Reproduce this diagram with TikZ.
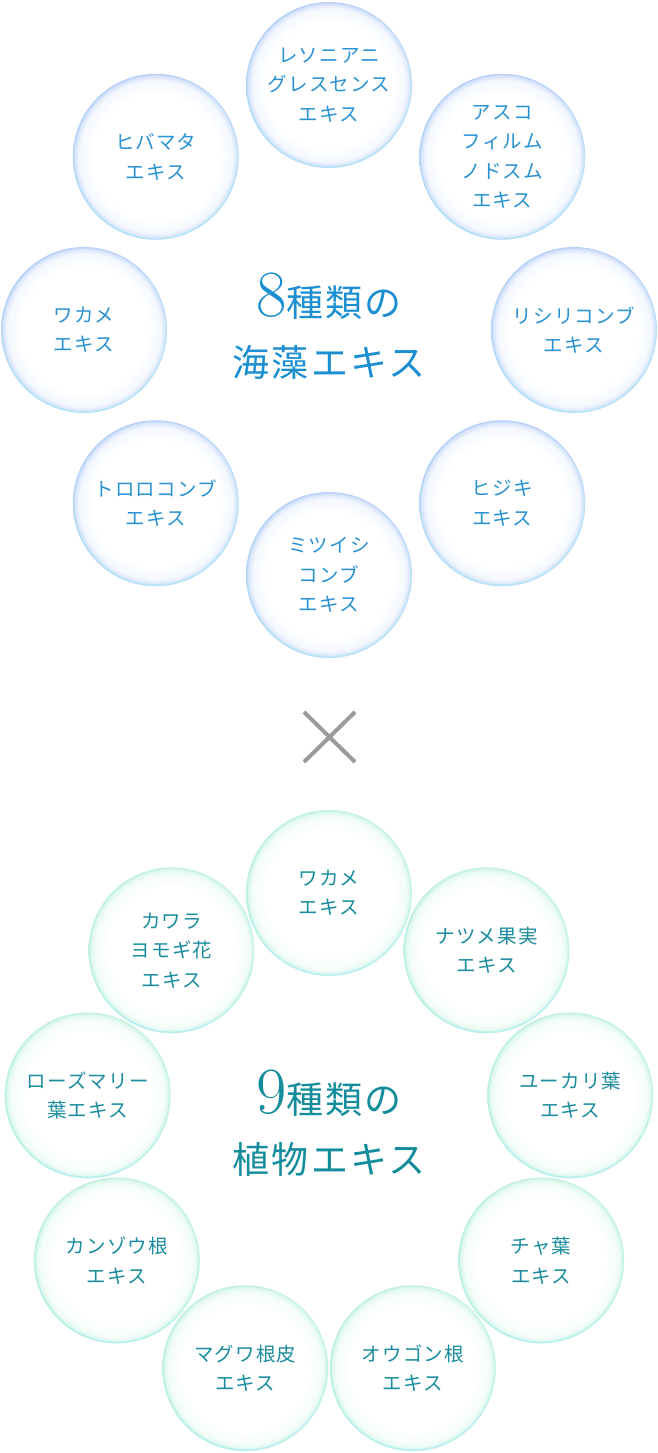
\documentclass[tikz,border=0pt]{standalone}
\usepackage{fontspec}
\usepackage{xcolor}
\usetikzlibrary{positioning,calc,fadings}

\newfontfamily\jpfont{Noto Sans CJK JP}[LetterSpace=6]
\newfontfamily\jptitle{Noto Sans CJK JP}[LetterSpace=6]
\newcommand{\headnum}[1]{{\normalfont\fontsize{66bp}{60bp}\selectfont #1}}

\definecolor{seatext}{HTML}{2A92D2}
\definecolor{seahead}{HTML}{1B8FD2}
\definecolor{searim}{HTML}{A9C4F7}
\definecolor{seafog}{HTML}{F4F8FE}
\definecolor{herbtext}{HTML}{1A8C9E}
\definecolor{herbhead}{HTML}{138C9C}
\definecolor{herbrim}{HTML}{B4EFD6}
\definecolor{herbfog}{HTML}{F4FDF9}
\definecolor{rimcyan}{HTML}{A6ECF5}
\definecolor{crossgrey}{HTML}{9B9B9B}

\pgfdeclareradialshading{seashade}{\pgfpoint{0bp}{0bp}}{color(0bp)=(white); color(19bp)=(white); color(23bp)=(seafog); color(24.4bp)=(searim!45); color(25bp)=(searim!85); color(50bp)=(white)}
\pgfdeclareradialshading{herbshade}{\pgfpoint{0bp}{0bp}}{color(0bp)=(white); color(19bp)=(white); color(23bp)=(herbfog); color(24.4bp)=(herbrim!45); color(25bp)=(herbrim!85); color(50bp)=(white)}

\begin{document}
\begin{tikzpicture}[x=1bp, y=-1bp,
  bubble/.style={circle, minimum size=166bp, inner sep=0pt, align=center, font=\jpfont\fontsize{19.5bp}{29.5bp}\selectfont},
  seabubble/.style={bubble, shade, shading=seashade, text=seatext},
  herbbubble/.style={bubble, shade, shading=herbshade, text=herbtext},
  rimglow/.style={draw=rimcyan, line width=1.6bp, opacity=0.6, path fading=north},
  heading/.style={align=center, inner sep=0pt, font=\jptitle\fontsize{37bp}{60bp}\selectfont},
  cross/.style={draw=crossgrey, line width=4bp}]
\useasboundingbox (0,0) rectangle (658,1453);

% Seaweed ring
\coordinate (seacentre) at (329,330);
\foreach \txt [count=\i from 0] in {{レソニアニ\\グレスセンス\\エキス}, {アスコ\\フィルム\\ノドスム\\エキス}, {リシリコンブ\\エキス}, {ヒジキ\\エキス}, {ミツイシ\\コンブ\\エキス}, {トロロコンブ\\エキス}, {ワカメ\\エキス}, {ヒバマタ\\エキス}}
  \node[seabubble] (sea\i) at ($(seacentre)+({-90+45*\i}:245)$) {\txt};
\foreach \i in {0,...,7}
  \draw[rimglow] (sea\i.center) circle[radius=81.8bp];
\node[heading, text=seahead] (seatitle) at ($(seacentre)+(0,-4)$) {\headnum{8}種類の\\海藻エキス};

% Cross
\coordinate (crossA) at (304,712);
\coordinate (crossB) at (355,712);
\coordinate (crossC) at (304,762);
\coordinate (crossD) at (355,762);
\draw[cross] (crossA) -- (crossD);
\draw[cross] (crossB) -- (crossC);

% Plant ring
\coordinate (herbcentre) at (329,1138);
\foreach \txt [count=\i from 0] in {{ワカメ\\エキス}, {ナツメ果実\\エキス}, {ユーカリ葉\\エキス}, {チャ葉\\エキス}, {オウゴン根\\エキス}, {マグワ根皮\\エキス}, {カンゾウ根\\エキス}, {ローズマリー\\葉エキス}, {カワラ\\ヨモギ花\\エキス}}
  \node[herbbubble] (herb\i) at ($(herbcentre)+({-90+40*\i}:245)$) {\txt};
\foreach \i in {0,...,8}
  \draw[rimglow] (herb\i.center) circle[radius=81.8bp];
\node[heading, text=herbhead] (herbtitle) at ($(herbcentre)+(0,-15)$) {\headnum{9}種類の\\植物エキス};
\end{tikzpicture}
\end{document}
